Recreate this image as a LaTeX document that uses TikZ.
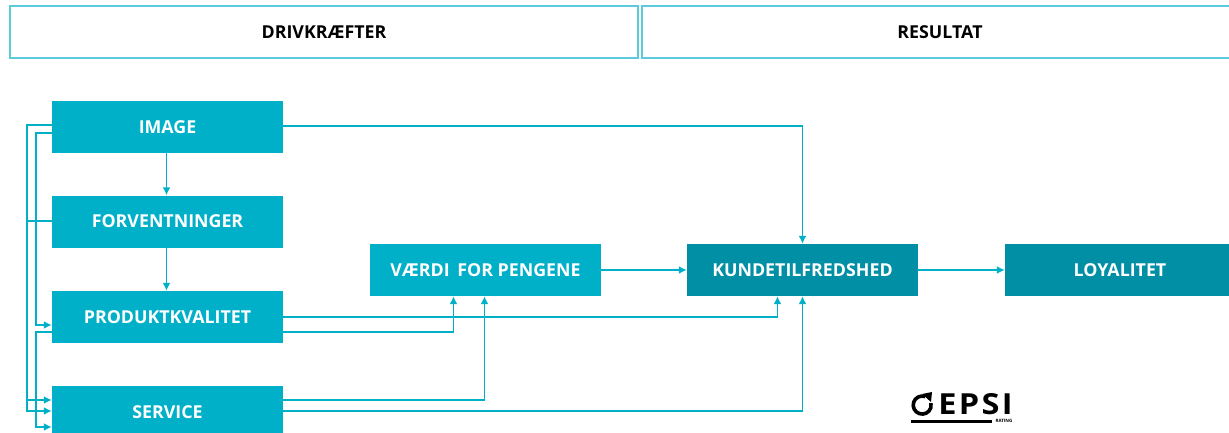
\documentclass[tikz,border=0pt]{standalone}
\usepackage{fontspec}
\setmainfont{Open Sans}
\usetikzlibrary{arrows.meta}
\definecolor{epsiblue}{HTML}{00B0C8}
\definecolor{epsidark}{HTML}{008FA5}
\definecolor{epsiedge}{HTML}{5CCCDC}
\tikzset{>={Latex[length=8pt,width=8pt]}}
\tikzset{box/.style={fill=epsiblue,text=white,font=\fontsize{17.8pt}{20pt}\selectfont\bfseries,minimum width=231pt,minimum height=52pt,inner sep=0pt}}
\tikzset{darkbox/.style={box,fill=epsidark}}
\tikzset{headbox/.style={draw=epsiedge,line width=1.2pt,fill=white,text=black,font=\fontsize{17.8pt}{20pt}\selectfont\bfseries,minimum height=52pt,inner sep=0pt}}
\tikzset{link/.style={draw=epsiblue,line width=1.8pt,->}}
\begin{document}
\begin{tikzpicture}[x=1pt,y=-1pt]
    \useasboundingbox (0,0) rectangle (1229,433);

    \node[headbox,minimum width=628pt] (drivers) at (324,32) {DRIVKRÆFTER};
    \node[headbox,minimum width=596pt] (results) at (940,32) {RESULTAT};

    \node[box] (image) at (167.5,127) {IMAGE};
    \node[box] (forv) at (167.5,221.5) {FORVENTNINGER};
    \node[box] (prod) at (167.5,317) {PRODUKTKVALITET};
    \node[box] (service) at (167.5,412) {SERVICE};
    \node[box] (vaerdi) at (485.5,270) {VÆRDI\, FOR PENGENE};
    \node[darkbox] (kunde) at (802.5,270) {KUNDETILFREDSHED};
    \node[darkbox,minimum width=230pt] (loyal) at (1120,270) {LOYALITET};

    \draw[link] ([xshift=-1pt]image.south) -- ([xshift=-1pt]forv.north);
    \draw[link] ([xshift=-1pt]forv.south) -- ([xshift=-1pt]prod.north);
    \draw[link] (vaerdi.east) -- (kunde.west);
    \draw[link] (kunde.east) -- (loyal.west);

    \draw[link] ([yshift=1pt]image.east) -| (kunde.north);
    \draw[link] (prod.east) -| ([xshift=-25pt]kunde.south);
    \draw[link] ([yshift=-15pt]prod.east) -| ([xshift=-32pt]vaerdi.south);
    \draw[link] ([yshift=12pt]service.east) -| ([xshift=-1pt]vaerdi.south);
    \draw[link] ([yshift=1pt]service.east) -| (kunde.south);

    \draw[link] ([yshift=2pt]image.west) -- ++(-25,0) |- ([yshift=1pt]service.west);
    \draw[link] ([yshift=-6pt]image.west) -- ++(-16,0) |- ([yshift=-8pt]prod.west);
    \draw[link] ([yshift=0.5pt]forv.west) -- ++(-25,0) |- ([yshift=12pt]service.west);
    \draw[link] ([yshift=-15pt]prod.west) -- ++(-16,0) |- ([yshift=-15pt]service.west);

    % logo
    \node[inner sep=0pt,xscale=1.12,transform shape,font=\fontsize{29pt}{30pt}\selectfont\bfseries] (epsi) at (975.5,404) {\addfontfeature{LetterSpace=7}EPSI};
    \node[inner sep=0pt,font=\fontsize{4.5pt}{5pt}\selectfont\bfseries] (rating) at (1004,421) {RATING};
    \coordinate (barL) at (911,421);
    \coordinate (barR) at (992,421);
    \draw[line width=3pt] (barL) -- (barR);
    \draw[line width=3.6pt] (925,396.5) arc (-72:-372:9);
    \fill (922,394) -- (932,392) -- (931,402) -- cycle;
\end{tikzpicture}
\end{document}
